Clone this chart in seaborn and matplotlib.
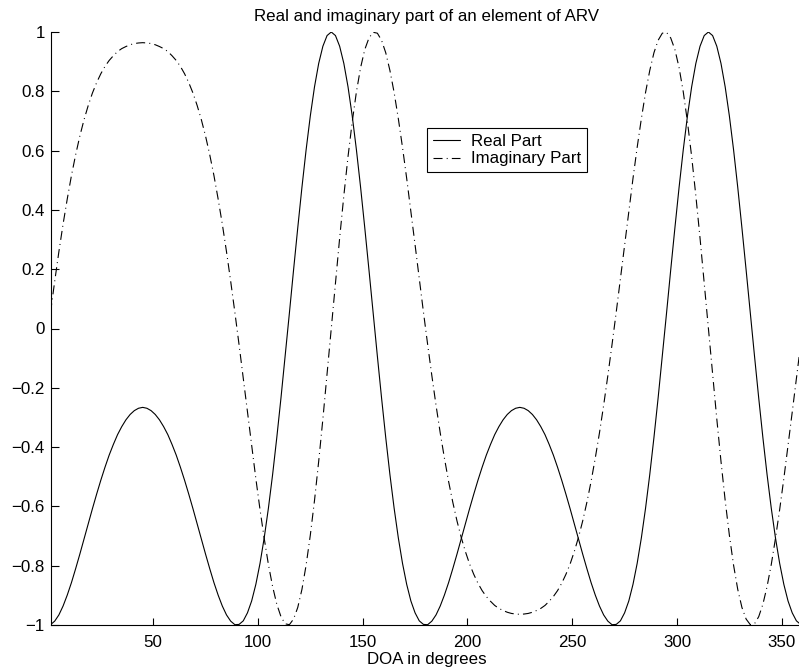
import numpy as np
import matplotlib
matplotlib.use("Agg")
import matplotlib.pyplot as plt
import seaborn as sns

# Direction of arrival grid (degrees)
doa_deg = np.arange(1, 360, 2)

# Real part of the array response vector element
real_part = [
    -0.999, -0.987, -0.966, -0.936, -0.899, -0.857, -0.810, -0.761, -0.710, -0.659,
    -0.608, -0.559, -0.512, -0.468, -0.427, -0.391, -0.358, -0.331, -0.308, -0.290,
    -0.277, -0.269, -0.266, -0.269, -0.277, -0.290, -0.308, -0.331, -0.358, -0.391,
    -0.427, -0.468, -0.512, -0.559, -0.608, -0.659, -0.710, -0.761, -0.810, -0.857,
    -0.899, -0.936, -0.966, -0.987, -0.999, -0.998, -0.986, -0.959, -0.919, -0.863,
    -0.792, -0.706, -0.606, -0.493, -0.368, -0.234, -0.093, 0.051, 0.197, 0.339,
    0.476, 0.603, 0.717, 0.815, 0.894, 0.952, 0.988, 1.000, 0.988, 0.952,
    0.894, 0.815, 0.717, 0.603, 0.476, 0.339, 0.197, 0.051, -0.093, -0.234,
    -0.368, -0.493, -0.606, -0.706, -0.792, -0.863, -0.919, -0.959, -0.986, -0.998,
    -0.999, -0.987, -0.966, -0.936, -0.899, -0.857, -0.810, -0.761, -0.710, -0.659,
    -0.608, -0.559, -0.512, -0.468, -0.427, -0.391, -0.358, -0.331, -0.308, -0.290,
    -0.277, -0.269, -0.266, -0.269, -0.277, -0.290, -0.308, -0.331, -0.358, -0.391,
    -0.427, -0.468, -0.512, -0.559, -0.608, -0.659, -0.710, -0.761, -0.810, -0.857,
    -0.899, -0.936, -0.966, -0.987, -0.999, -0.998, -0.986, -0.959, -0.919, -0.863,
    -0.792, -0.706, -0.606, -0.493, -0.368, -0.234, -0.093, 0.051, 0.197, 0.339,
    0.476, 0.603, 0.717, 0.815, 0.894, 0.952, 0.988, 1.000, 0.988, 0.952,
    0.894, 0.815, 0.717, 0.603, 0.476, 0.339, 0.197, 0.051, -0.093, -0.234,
    -0.368, -0.493, -0.606, -0.706, -0.792, -0.863, -0.919, -0.959, -0.986, -0.998,
]

# Imaginary part of the same element
imag_part = [
    0.054, 0.159, 0.259, 0.352, 0.437, 0.516, 0.586, 0.649, 0.704, 0.752,
    0.794, 0.829, 0.859, 0.884, 0.904, 0.920, 0.934, 0.944, 0.951, 0.957,
    0.961, 0.963, 0.964, 0.963, 0.961, 0.957, 0.951, 0.944, 0.934, 0.920,
    0.904, 0.884, 0.859, 0.829, 0.794, 0.752, 0.704, 0.649, 0.586, 0.516,
    0.437, 0.352, 0.259, 0.159, 0.054, -0.055, -0.168, -0.282, -0.395, -0.506,
    -0.611, -0.708, -0.796, -0.870, -0.930, -0.972, -0.996, -0.999, -0.980, -0.941,
    -0.880, -0.798, -0.697, -0.580, -0.448, -0.305, -0.154, 0.000, 0.154, 0.305,
    0.448, 0.580, 0.697, 0.798, 0.880, 0.941, 0.980, 0.999, 0.996, 0.972,
    0.930, 0.870, 0.796, 0.708, 0.611, 0.506, 0.395, 0.282, 0.168, 0.055,
    -0.054, -0.159, -0.259, -0.352, -0.437, -0.516, -0.586, -0.649, -0.704, -0.752,
    -0.794, -0.829, -0.859, -0.884, -0.904, -0.920, -0.934, -0.944, -0.951, -0.957,
    -0.961, -0.963, -0.964, -0.963, -0.961, -0.957, -0.951, -0.944, -0.934, -0.920,
    -0.904, -0.884, -0.859, -0.829, -0.794, -0.752, -0.704, -0.649, -0.586, -0.516,
    -0.437, -0.352, -0.259, -0.159, -0.054, 0.055, 0.168, 0.282, 0.395, 0.506,
    0.611, 0.708, 0.796, 0.870, 0.930, 0.972, 0.996, 0.999, 0.980, 0.941,
    0.880, 0.798, 0.697, 0.580, 0.448, 0.305, 0.154, 0.000, -0.154, -0.305,
    -0.448, -0.580, -0.697, -0.798, -0.880, -0.941, -0.980, -0.999, -0.996, -0.972,
    -0.930, -0.870, -0.796, -0.708, -0.611, -0.506, -0.395, -0.282, -0.168, -0.055,
]

x_ticks = [50, 100, 150, 200, 250, 300, 350]
x_tick_labels = ["50", "100", "150", "200", "250", "300", "350"]
y_ticks = [-1.0, -0.8, -0.6, -0.4, -0.2, 0.0, 0.2, 0.4, 0.6, 0.8, 1.0]
y_tick_labels = ["\u22121", "\u22120.8", "\u22120.6", "\u22120.4", "\u22120.2",
                 "0", "0.2", "0.4", "0.6", "0.8", "1"]

sns.set_theme(style="white")
plt.rcParams["font.family"] = ["Liberation Sans", "DejaVu Sans"]
plt.rcParams["lines.scale_dashes"] = False
FS = 12.2

fig = plt.figure(figsize=(7.99, 6.71), dpi=100)
ax = fig.add_axes([50.5 / 799, 46 / 671, (802.7 - 50.5) / 799, (625 - 32) / 671])

sns.lineplot(x=doa_deg, y=real_part, ax=ax, color="black", lw=0.8, label="Real Part")
sns.lineplot(x=doa_deg, y=imag_part, ax=ax, color="black", lw=0.8,
             ls=(0, (6.5, 3, 0.7, 3)), label="Imaginary Part")

ax.set_xlim(1, 360)
ax.set_ylim(-1, 1)
ax.set_xticks(x_ticks)
ax.set_xticklabels(x_tick_labels)
ax.set_yticks(y_ticks)
ax.set_yticklabels(y_tick_labels)

for side in ("top", "right"):
    ax.spines[side].set_visible(False)
for side in ("left", "bottom"):
    ax.spines[side].set_color("black")
    ax.spines[side].set_linewidth(0.8)
ax.tick_params(axis="both", direction="in", length=5.4, width=0.8, color="black",
               labelsize=FS, labelcolor="black", bottom=True, left=True)
ax.tick_params(axis="y", pad=4)
ax.tick_params(axis="x", pad=7)

ax.set_xlabel("DOA in degrees", fontsize=FS, color="black", labelpad=1.5)
ax.set_title("Real and imaginary part of an element of ARV", fontsize=FS,
             color="black", pad=8)

leg = ax.legend(loc="upper left", bbox_to_anchor=(427 / 799, 1 - 128 / 671),
                bbox_transform=fig.transFigure, borderaxespad=0, fontsize=FS,
                frameon=True, fancybox=False, framealpha=1, edgecolor="black",
                handlelength=1.6, handletextpad=0.65, borderpad=0.35,
                labelspacing=0.15)
leg.get_frame().set_linewidth(0.8)
for t in leg.get_texts():
    t.set_color("black")

fig.savefig("out.png", dpi=100)
